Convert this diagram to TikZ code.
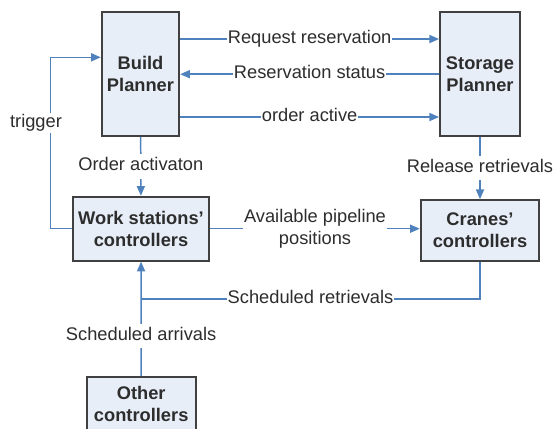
\documentclass[tikz,border=0pt]{standalone}
\usepackage{fontspec}
\setmainfont{Liberation Sans}
\usetikzlibrary{arrows.meta}
\definecolor{flowblue}{RGB}{79,129,189}
\definecolor{boxfill}{RGB}{232,238,248}
\definecolor{boxedge}{RGB}{64,64,64}
\definecolor{txtgray}{RGB}{45,45,45}
\begin{document}
\begin{tikzpicture}[
  font=\fontsize{10.4}{12.4}\selectfont,
  unit/.style={rectangle, draw=boxedge, fill=boxfill, line width=1.1pt, align=center,
    text=txtgray, font=\fontsize{10.4}{12.4}\selectfont\bfseries, inner sep=0pt},
  conn/.style={draw=flowblue, line width=0.85pt},
  conn_arrow/.style={conn, -{Triangle[length=5.5pt,width=4.6pt]}},
  lbl_block/.style={fill=white, text=txtgray, inner xsep=0.6pt, inner ysep=2.4pt, align=center},
  lbl/.style={lbl_block, text height=0.72em, text depth=0.2em}
]

\useasboundingbox (0,0) rectangle (11.06,-8.56);
\clip (0,0) rectangle (11.06,-8.56);

% Planners
\node[unit, minimum width=1.55cm, minimum height=2.47cm] (bp) at (2.81,-1.484) {Build\\Planner};
\node[unit, minimum width=1.60cm, minimum height=2.47cm] (sp) at (9.60,-1.484) {Storage\\Planner};

% Controllers
\node[unit, minimum width=2.73cm, minimum height=1.28cm] (ws) at (2.82,-4.574) {Work stations'\\controllers};
\node[unit, minimum width=2.37cm, minimum height=1.21cm] (cr) at (9.60,-4.607) {Cranes'\\controllers};
\node[unit, minimum width=2.18cm, minimum height=1.08cm, anchor=north] (oc) at (2.824,-7.52) {Other\\controllers};

% Turning points
\coordinate (trig) at (1.006,-1.146);
\coordinate (jn) at (2.82,-5.98);

% --- Planner messages ---
\draw[conn_arrow] (bp.east |- 0,-0.78) -- node[lbl] {Request reservation} (sp.west |- 0,-0.78);
\draw[conn_arrow] (sp.west |- 0,-1.484) -- node[lbl] {Reservation status} (bp.east |- 0,-1.484);
\draw[conn_arrow] (bp.east |- 0,-2.34) -- node[lbl] {order active} (sp.west |- 0,-2.34);

% --- Down to the controllers ---
\draw[conn_arrow] (bp) -- node[lbl] {Order activaton} (ws);
\draw[conn_arrow] (sp) -- node[lbl] {Release retrievals} (cr);
\draw[conn_arrow] (ws.east) -- node[lbl_block] {Available pipeline\\positions} (ws.east -| cr.west);

% --- Feedback ---
\draw[conn_arrow] (ws.west) -| (trig) -- (bp.west |- trig);
\node[lbl, inner ysep=1pt] (trg) at (0.72,-2.46) {trigger};

\draw[conn] (cr.south) |- node[lbl, pos=0.75] {Scheduled retrievals} (jn);
\draw[conn_arrow] (oc) -- node[lbl, pos=0.35] {Scheduled arrivals} (ws);

\end{tikzpicture}
\end{document}
